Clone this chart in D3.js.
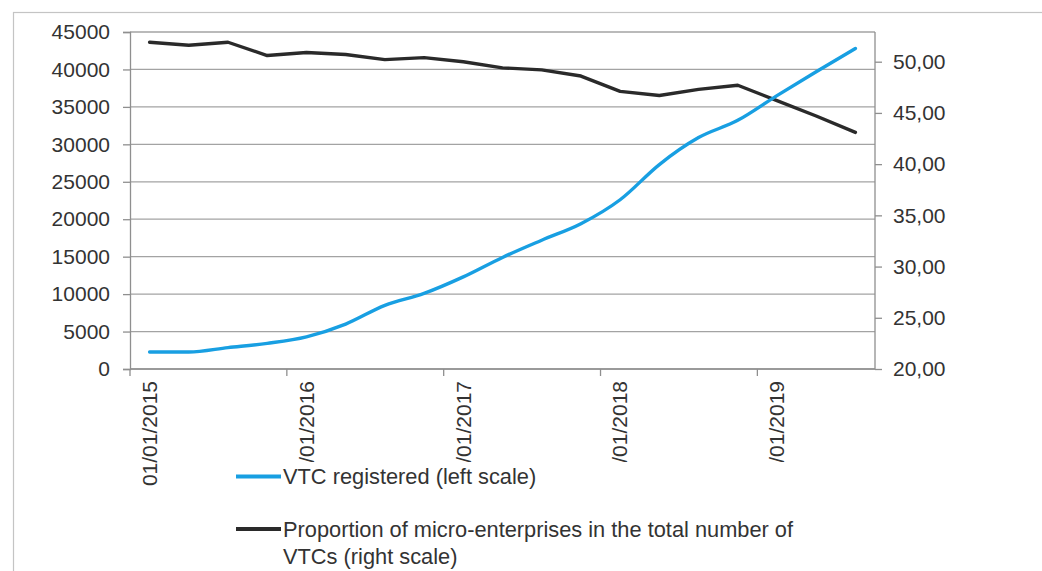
<!DOCTYPE html>
<html>
<head>
<meta charset="utf-8">
<script src="https://cdn.jsdelivr.net/npm/d3@7"></script>
<style>
  html, body { margin: 0; padding: 0; background: #ffffff; }
  svg { display: block; }
  text { font-family: "Liberation Sans", Arial, sans-serif; fill: #333333; }
</style>
</head>
<body>
<svg id="chart" width="1042" height="571"></svg>
<script>
// Quarterly observations, Q1 2015 – Q3 2019
const quarters = [
  "01/01/2015", "01/04/2015", "01/07/2015", "01/10/2015",
  "01/01/2016", "01/04/2016", "01/07/2016", "01/10/2016",
  "01/01/2017", "01/04/2017", "01/07/2017", "01/10/2017",
  "01/01/2018", "01/04/2018", "01/07/2018", "01/10/2018",
  "01/01/2019", "01/04/2019", "01/07/2019"
];

// VTC registered (left scale)
const vtcRegistered = [
  2270, 2270, 2850, 3430, 4300, 6000, 8500, 10100, 12300, 14900,
  17200, 19400, 22600, 27300, 30900, 33200, 36500, 39700, 42800
];

// Proportion of micro-enterprises in the total number of VTCs (right scale)
const microShare = [
  51.9, 51.6, 51.9, 50.6, 50.9, 50.7, 50.2, 50.4, 50.0, 49.4,
  49.2, 48.6, 47.1, 46.7, 47.3, 47.7, 46.2, 44.7, 43.1
];

const leftTicks = [0, 5000, 10000, 15000, 20000, 25000, 30000, 35000, 40000, 45000];
const rightTicks = [20, 25, 30, 35, 40, 45, 50];
const legendLabels = [
  ["VTC registered (left scale)"],
  ["Proportion of micro-enterprises in the total number of", "VTCs (right scale)"]
];

const svg = d3.select("#chart");
const W = 1042, H = 571;
const plot = { left: 130, right: 875, top: 32, bottom: 369 };

const gridColor = "#a3a3a3";
const axisColor = "#8f8f8f";
const blue = "#189fe2";
const dark = "#2a2a2a";

// Outer chart frame (runs off the right and bottom edges)
svg.append("rect")
  .attr("x", 13.5).attr("y", 12.5)
  .attr("width", W + 10).attr("height", H + 10)
  .attr("fill", "#ffffff")
  .attr("stroke", "#c4c4c4").attr("stroke-width", 1.2);

// Scales
const xBand = d3.scaleBand().domain(quarters).range([plot.left, plot.right]).paddingInner(0).paddingOuter(0);
const xMid = d => xBand(d) + xBand.bandwidth() / 2;
const yLeft = d3.scaleLinear().domain([0, 45000]).range([plot.bottom, plot.top]);
const yRight = d3.scaleLinear().domain([20, 52.9]).range([plot.bottom, plot.top]);

// Horizontal gridlines on the left scale
svg.append("g").selectAll("line").data(leftTicks).join("line")
  .attr("x1", plot.left).attr("x2", plot.right)
  .attr("y1", d => yLeft(d)).attr("y2", d => yLeft(d))
  .attr("stroke", gridColor).attr("stroke-width", 1.3);

// Left axis
const leftAxis = d3.axisLeft(yLeft).tickValues(leftTicks).tickSize(7).tickPadding(13).tickFormat(d3.format("d"));
const gL = svg.append("g").attr("transform", `translate(${plot.left},0)`).call(leftAxis);
gL.select(".domain").attr("stroke", axisColor).attr("stroke-width", 1.3);
gL.selectAll(".tick line").attr("stroke", axisColor).attr("stroke-width", 1.3);
gL.selectAll(".tick text").attr("font-size", 21).attr("fill", "#333").attr("font-family", "Liberation Sans, Arial, sans-serif");

// Right axis with comma decimals
const commaFmt = d3.formatLocale({ decimal: ",", thousands: " ", grouping: [3], currency: ["", ""] }).format(".2f");
const rightAxis = d3.axisRight(yRight).tickValues(rightTicks).tickSize(7).tickPadding(11).tickFormat(commaFmt);
const gR = svg.append("g").attr("transform", `translate(${plot.right},0)`).call(rightAxis);
gR.select(".domain").remove();
gR.append("line").attr("x1", 0).attr("x2", 0).attr("y1", plot.top).attr("y2", plot.bottom)
  .attr("stroke", axisColor).attr("stroke-width", 1.3);
gR.selectAll(".tick line").attr("stroke", axisColor).attr("stroke-width", 1.3);
gR.selectAll(".tick text").attr("font-size", 21).attr("fill", "#333").attr("font-family", "Liberation Sans, Arial, sans-serif");

// Bottom axis: tick marks between categories, one per year
const yearStarts = quarters.filter((q, i) => i % 4 === 0);
const gB = svg.append("g");
gB.append("line")
  .attr("x1", plot.left).attr("x2", plot.right)
  .attr("y1", plot.bottom).attr("y2", plot.bottom)
  .attr("stroke", axisColor).attr("stroke-width", 1.3);
gB.selectAll("line.tick").data(yearStarts).join("line")
  .attr("class", "tick")
  .attr("x1", d => xBand(d)).attr("x2", d => xBand(d))
  .attr("y1", plot.bottom).attr("y2", plot.bottom + 7)
  .attr("stroke", axisColor).attr("stroke-width", 1.3);
gB.selectAll("text").data(yearStarts).join("text")
  .attr("transform", d => `translate(${xMid(d)},${plot.bottom + 12}) rotate(-90)`)
  .attr("text-anchor", "end")
  .attr("dy", "0.35em")
  .attr("font-size", 21)
  .text(d => d);

// Series lines
const blueLine = d3.line()
  .x((d, i) => xMid(quarters[i]))
  .y(d => yLeft(d))
  .curve(d3.curveMonotoneX);
const darkLine = d3.line()
  .x((d, i) => xMid(quarters[i]))
  .y(d => yRight(d));

svg.append("path").datum(microShare)
  .attr("d", darkLine)
  .attr("fill", "none").attr("stroke", dark).attr("stroke-width", 3.4)
  .attr("stroke-linejoin", "round").attr("stroke-linecap", "round");

svg.append("path").datum(vtcRegistered)
  .attr("d", blueLine)
  .attr("fill", "none").attr("stroke", blue).attr("stroke-width", 3.4)
  .attr("stroke-linejoin", "round").attr("stroke-linecap", "round");

// Legend (white box sits over the lower part of the rotated date labels)
const legend = svg.append("g");
legend.append("rect")
  .attr("x", 228).attr("y", 462).attr("width", 620).attr("height", 130)
  .attr("fill", "#ffffff");
const legendColors = [blue, dark];
const legendY = [476.5, 529];
legendLabels.forEach((lines, k) => {
  legend.append("line")
    .attr("x1", 236).attr("x2", 281)
    .attr("y1", legendY[k]).attr("y2", legendY[k])
    .attr("stroke", legendColors[k]).attr("stroke-width", 4);
  lines.forEach((t, j) => {
    legend.append("text")
      .attr("x", 283).attr("y", legendY[k] + 7.5 + j * 27)
      .attr("font-size", 21.8)
      .text(t);
  });
});
</script>
</body>
</html>
